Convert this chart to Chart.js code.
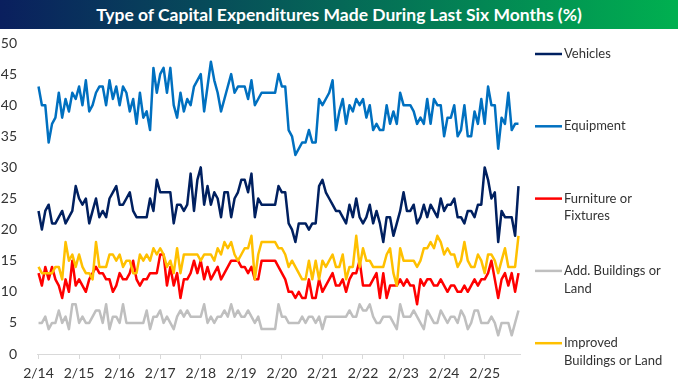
<!DOCTYPE html>
<html>
<head>
<meta charset="utf-8">
<script src="https://cdn.jsdelivr.net/npm/chart.js@4.4.1/dist/chart.umd.min.js"></script>
<style>
  body { margin: 0; background: #fff; }
  #wrap { position: relative; width: 678px; height: 384px; }
  #title {
    position: absolute; left: 0; top: 0; width: 678px; height: 29px;
    background: linear-gradient(to right, #0a1f5e, #00b050);
    color: #fff; font: bold 17.5px Lato, sans-serif; text-align: center; line-height: 29px;
  }
  canvas { position: absolute; left: 0; top: 0; }
</style>
</head>
<body>
<div id="wrap">
  <canvas id="chart" width="678" height="384"></canvas>
  <div id="title">Type of Capital Expenditures Made During Last Six Months (%)</div>
</div>
<script>
// monthly, Feb 2014 onwards
const yearLabels = ['2/14', '2/15', '2/16', '2/17', '2/18', '2/19', '2/20', '2/21', '2/22', '2/23', '2/24', '2/25'];

const vehicles = [
    23, 20, 23, 24, 21, 21, 22, 23, 21, 22, 23, 27, 25, 24, 25, 21, 23, 25, 22, 23, 22, 25, 26, 27, 24,
    24, 25, 26, 23, 22, 22, 22, 22, 25, 23, 28, 26, 26, 26, 26, 21, 24,
    24, 23, 24, 29, 23, 28, 30, 24, 27, 24, 26, 25, 22, 26, 26, 22, 25, 26, 28, 28, 26, 29, 22, 25, 24,
    24, 24, 24, 24, 27, 26, 26, 21, 20, 18, 21, 21, 21, 20, 21, 21, 27, 28, 26, 25, 24, 23, 23, 22, 21,
    24, 22, 25, 22, 21, 22, 24, 21, 23, 21, 18, 22, 22, 19, 21, 23, 26, 23, 23, 24, 21, 22, 24, 22, 24,
    23, 22, 25, 23, 24, 24, 25, 22, 22, 21, 23, 23, 22, 24, 24, 30, 28, 25, 26, 18, 23, 22, 22, 22, 19, 27
];
const equipment = [
    43, 40, 40, 34, 37, 38, 42, 38, 41, 39, 42, 41, 43, 40, 44, 39, 40, 42, 43, 43, 40, 44, 41, 43, 40,
    43, 42, 39, 41, 37, 42, 38, 39, 36, 46, 42, 45, 46, 42, 46, 40, 38,
    42, 39, 41, 40, 43, 44, 45, 39, 43, 47, 44, 42, 39, 41, 43, 45, 42, 43, 43, 43, 41, 44, 40, 41, 42,
    42, 42, 42, 42, 45, 43, 43, 36, 35, 32, 33, 34, 34, 36, 34, 34, 41, 40, 41, 42, 44, 36, 39, 41, 37,
    40, 39, 41, 40, 41, 38, 40, 36, 37, 36, 36, 40, 37, 39, 37, 42, 40, 40, 40, 39, 37, 38, 37, 41, 37,
    41, 40, 40, 35, 38, 38, 40, 35, 36, 40, 35, 35, 39, 37, 41, 37, 43, 40, 40, 33, 38, 37, 42, 36, 37, 37
];
const furniture = [
    13, 11, 14, 12, 14, 12, 11, 9, 12, 10, 15, 11, 12, 11, 10, 12, 13, 14, 13, 13, 12, 12, 10, 11, 13,
    12, 12, 13, 15, 12, 11, 12, 12, 13, 13, 13, 16, 16, 11, 14, 11, 13,
    9, 12, 12, 13, 15, 13, 15, 12, 14, 12, 13, 14, 12, 13, 14, 15, 15, 15, 14, 14, 13, 14, 12, 12, 15,
    15, 15, 15, 15, 14, 13, 12, 10, 10, 9, 10, 9, 9, 12, 9, 9, 12, 10, 11, 12, 13, 11, 11, 12, 10,
    12, 13, 13, 15, 11, 11, 11, 12, 13, 9, 13, 9, 11, 11, 11, 12, 11, 12, 11, 11, 8, 12, 11, 12, 12,
    11, 11, 12, 11, 10, 11, 11, 10, 10, 11, 10, 11, 12, 11, 12, 12, 13, 15, 12, 9, 12, 13, 11, 13, 10, 13
];
const addBuildings = [
    5, 5, 6, 4, 5, 5, 7, 5, 6, 4, 8, 8, 5, 6, 5, 5, 6, 7, 7, 5, 8, 4, 6, 6, 5,
    8, 5, 5, 5, 5, 5, 5, 7, 4, 6, 6, 7, 5, 6, 5, 4, 6,
    7, 6, 7, 6, 6, 6, 6, 8, 5, 6, 5, 6, 6, 7, 6, 8, 6, 7, 6, 6, 7, 6, 5, 6, 4,
    4, 4, 4, 4, 8, 6, 6, 5, 5, 5, 5, 6, 5, 6, 6, 5, 6, 4, 6, 6, 6, 6, 6, 6, 6,
    7, 6, 6, 8, 7, 7, 8, 6, 5, 5, 6, 6, 6, 5, 4, 8, 6, 6, 6, 7, 6, 5, 4, 7, 6,
    5, 5, 7, 6, 5, 6, 6, 5, 7, 6, 4, 5, 7, 7, 5, 5, 5, 6, 5, 3, 5, 5, 5, 3, 5, 7
];
const improved = [
    14, 13, 13, 13, 13, 14, 14, 12, 18, 15, 16, 14, 16, 14, 13, 13, 12, 18, 14, 14, 14, 16, 16, 15, 16,
    14, 15, 15, 13, 13, 16, 15, 16, 15, 17, 16, 17, 16, 14, 15, 13, 17,
    13, 16, 16, 16, 16, 16, 15, 16, 16, 16, 15, 17, 16, 18, 17, 18, 16, 15, 16, 17, 17, 19, 12, 16, 18,
    18, 18, 18, 18, 17, 17, 16, 14, 15, 14, 13, 12, 12, 15, 12, 15, 12, 15, 14, 15, 16, 14, 14, 16, 12,
    14, 14, 19, 14, 17, 15, 15, 14, 14, 14, 14, 16, 17, 13, 11, 17, 15, 15, 15, 15, 14, 15, 17, 17, 18,
    17, 19, 18, 16, 17, 16, 16, 14, 15, 18, 15, 14, 14, 16, 15, 13, 16, 16, 15, 13, 15, 17, 14, 14, 14, 19
];

const seriesNames = ['Vehicles', 'Equipment', 'Furniture or Fixtures', 'Add. Buildings or Land', 'Improved Buildings or Land'];
const legendLines = [['Vehicles'], ['Equipment'], ['Furniture or', 'Fixtures'], ['Add. Buildings or', 'Land'], ['Improved', 'Buildings or Land']];
const seriesColors = ['#002060', '#0070c0', '#ff0000', '#bfbfbf', '#ffc000'];
const seriesData = [vehicles, equipment, furniture, addBuildings, improved];

const toPoints = arr => arr.map((v, i) => ({ x: i, y: v }));

// legend on the right, one item per series, spaced down the side
const sideLegend = {
    id: 'sideLegend',
    afterDraw(chart) {
        const ctx = chart.ctx;
        ctx.save();
        ctx.font = '13px Lato, sans-serif';
        ctx.fillStyle = '#333';
        ctx.textBaseline = 'middle';
        chart.data.datasets.forEach((ds, i) => {
            const y = 54 + i * 72.3;
            ctx.strokeStyle = ds.borderColor;
            ctx.lineWidth = 2.5;
            ctx.beginPath();
            ctx.moveTo(535, y);
            ctx.lineTo(562, y);
            ctx.stroke();
            legendLines[i].forEach((t, j) => ctx.fillText(t, 564, y + j * 17.5));
        });
        ctx.restore();
    }
};

new Chart(document.getElementById('chart'), {
    type: 'line',
    data: {
        datasets: seriesData.map((arr, i) => ({
            label: seriesNames[i],
            data: toPoints(arr),
            borderColor: seriesColors[i],
            backgroundColor: seriesColors[i],
            borderWidth: 2.5,
            borderJoinStyle: 'round',
            pointRadius: 0,
            tension: 0,
            fill: false,
            order: seriesData.length - i
        }))
    },
    options: {
        responsive: false,
        animation: false,
        layout: { padding: { left: 0, right: 158, top: 43, bottom: 0 } },
        plugins: { legend: { display: false }, tooltip: { enabled: false } },
        scales: {
            x: {
                type: 'linear',
                min: -0.45,
                max: 142.45,
                afterBuildTicks: (s) => { s.ticks = yearLabels.map((_, i) => ({ value: i * 12 })); },
                afterFit: (s) => { s.height = 30; },
                border: { color: '#d9d9d9', width: 1 },
                grid: { drawOnChartArea: false, drawTicks: true, tickLength: 5, color: '#d9d9d9' },
                ticks: {
                    autoSkip: false,
                    maxRotation: 0,
                    padding: 6,
                    color: '#333',
                    font: { family: 'Lato, sans-serif', size: 14 },
                    callback: (v) => yearLabels[Math.round(v / 12)]
                }
            },
            y: {
                min: 0,
                max: 50,
                afterFit: (s) => { s.width = 37; },
                border: { display: false },
                grid: { display: false },
                ticks: {
                    stepSize: 5,
                    padding: 12,
                    color: '#333',
                    font: { family: 'Lato, sans-serif', size: 14 }
                }
            }
        }
    },
    plugins: [sideLegend]
});
</script>
</body>
</html>
